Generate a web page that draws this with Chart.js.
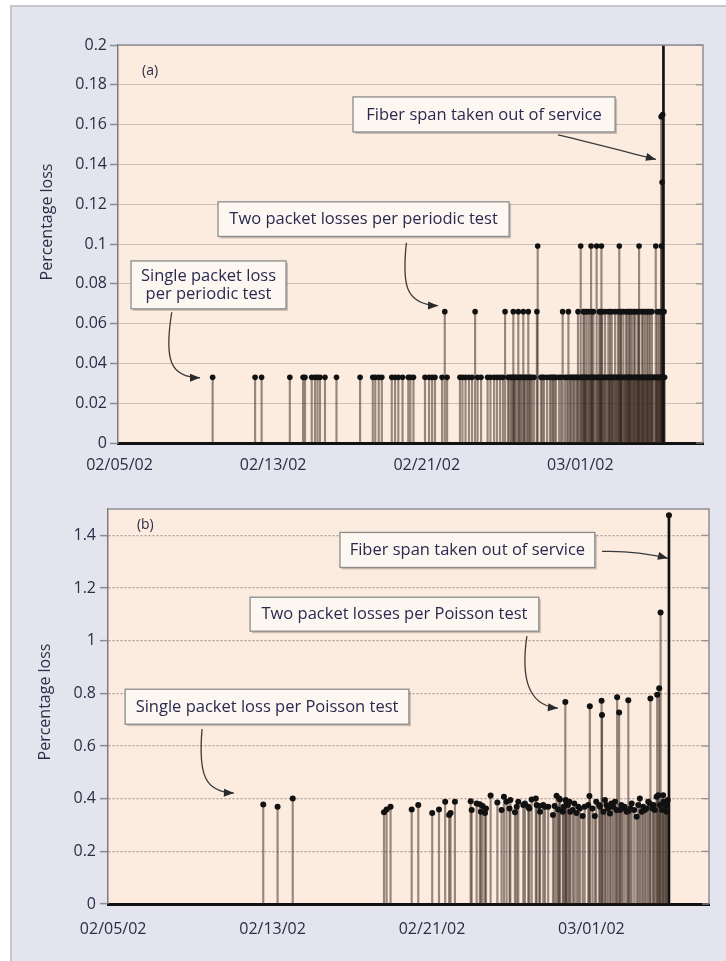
<!DOCTYPE html>
<html><head><meta charset="utf-8">
<script src="https://cdn.jsdelivr.net/npm/chart.js@4.4.1/dist/chart.umd.min.js"></script>
<style>
html,body{margin:0;padding:0;background:#fff;width:726px;height:961px;overflow:hidden;}
#frame{position:absolute;left:10px;top:5px;width:716px;height:956px;background:#e4e4ee;border-top:2px solid #c6c6ce;border-left:2px solid #c6c6ce;box-sizing:border-box;}
.wrap{position:absolute;left:0;width:726px;}
</style></head><body>
<div id="frame"></div>
<div class="wrap" style="top:0;height:480px"><canvas id="ca"></canvas></div>
<div class="wrap" style="top:480px;height:481px"><canvas id="cb"></canvas></div>
<script>
// ---------- data ----------
const xTickDays = [0, 8, 16, 24];          // days after 02/05/02
const xTickLabels = ['02/05/02', '02/13/02', '02/21/02', '03/01/02'];

const aYTicks  = [0, 0.02, 0.04, 0.06, 0.08, 0.1, 0.12, 0.14, 0.16, 0.18, 0.2];
const aYLabels = ['0', '0.02', '0.04', '0.06', '0.08', '0.1', '0.12', '0.14', '0.16', '0.18', '0.2'];
const bYTicks  = [0, 0.2, 0.4, 0.6, 0.8, 1, 1.2, 1.4];
const bYLabels = ['0', '0.2', '0.4', '0.6', '0.8', '1', '1.2', '1.4'];

// (a) periodic tests: day of test, percentage loss
const periodicDays = [
  4.85, 7.06, 7.40, 8.87, 9.56, 9.66, 10.01, 10.18, 10.31, 10.44, 10.70, 11.30, 12.53,
  13.19, 13.32, 13.50, 13.66, 14.18, 14.35, 14.52, 14.74, 15.04, 15.15, 15.31,
  15.91, 16.12, 16.28, 16.43, 16.80, 17.06, 17.73, 17.86, 18.02, 18.20, 18.36, 18.65, 18.83,
  19.17, 19.32, 19.51, 19.66, 19.82, 19.97, 20.23, 20.39, 20.55, 20.68, 20.81, 20.94, 21.07,
  21.22, 21.35, 21.48, 21.59, 21.95, 22.11, 22.27, 22.42, 22.58, 22.73, 22.89, 23.20, 23.52,
  23.67, 23.83, 24.06, 24.25, 24.40, 24.58, 24.71, 24.90, 25.03, 25.18, 25.34, 25.50, 25.65,
  25.76, 25.91, 26.07, 26.17, 26.33, 26.48, 26.59, 26.74, 26.90, 27.01, 27.16, 27.29, 27.42,
  27.53, 27.68, 27.79, 27.94, 28.05, 28.15, 28.23, 28.39,
  20.30, 20.47, 20.60, 20.88, 21.13, 21.40, 22.02, 22.50, 22.65, 23.00, 23.30, 23.45, 23.60,
  23.75, 23.95, 24.11, 24.20, 24.30, 24.50, 24.63, 24.80, 24.95, 25.08, 25.24, 25.42, 25.56,
  25.70, 25.86, 26.00, 26.12, 26.27, 26.41, 26.53, 26.66, 26.82, 26.96, 27.10, 27.22, 27.34,
  27.49, 27.61, 27.74, 27.87, 27.99, 28.12, 28.30,
  16.94, 18.52, 20.08, 20.51, 20.77, 21.03, 21.29, 21.74, 23.08, 23.38, 23.88, 24.16, 24.33,
  24.45, 24.68, 24.99, 25.14, 25.29, 25.46, 25.64, 25.81, 25.96, 26.12, 26.24, 26.38, 26.45,
  26.54, 26.68, 26.79, 26.85, 26.98, 27.20, 27.27, 27.37, 27.47, 27.63, 27.73, 28.01, 28.10, 28.36,
  24.22, 24.60, 25.05, 25.55, 26.10, 26.60, 27.05, 27.55, 28.20,
  21.78, 24.02, 24.56, 24.85, 25.10, 26.03, 27.06, 27.93, 28.22,
  28.26, 28.21, 28.29
];
const periodicLoss = [
  0.033, 0.033, 0.033, 0.033, 0.033, 0.033, 0.033, 0.033, 0.033, 0.033, 0.033, 0.033, 0.033,
  0.033, 0.033, 0.033, 0.033, 0.033, 0.033, 0.033, 0.033, 0.033, 0.033, 0.033,
  0.033, 0.033, 0.033, 0.033, 0.033, 0.033, 0.033, 0.033, 0.033, 0.033, 0.033, 0.033, 0.033,
  0.033, 0.033, 0.033, 0.033, 0.033, 0.033, 0.033, 0.033, 0.033, 0.033, 0.033, 0.033, 0.033,
  0.033, 0.033, 0.033, 0.033, 0.033, 0.033, 0.033, 0.033, 0.033, 0.033, 0.033, 0.033, 0.033,
  0.033, 0.033, 0.033, 0.033, 0.033, 0.033, 0.033, 0.033, 0.033, 0.033, 0.033, 0.033, 0.033,
  0.033, 0.033, 0.033, 0.033, 0.033, 0.033, 0.033, 0.033, 0.033, 0.033, 0.033, 0.033, 0.033,
  0.033, 0.033, 0.033, 0.033, 0.033, 0.033, 0.033, 0.033,
  0.033, 0.033, 0.033, 0.033, 0.033, 0.033, 0.033, 0.033, 0.033, 0.033, 0.033, 0.033, 0.033,
  0.033, 0.033, 0.033, 0.033, 0.033, 0.033, 0.033, 0.033, 0.033, 0.033, 0.033, 0.033, 0.033,
  0.033, 0.033, 0.033, 0.033, 0.033, 0.033, 0.033, 0.033, 0.033, 0.033, 0.033, 0.033, 0.033,
  0.033, 0.033, 0.033, 0.033, 0.033, 0.033, 0.033,
  0.066, 0.066, 0.066, 0.066, 0.066, 0.066, 0.066, 0.066, 0.066, 0.066, 0.066, 0.066, 0.066,
  0.066, 0.066, 0.066, 0.066, 0.066, 0.066, 0.066, 0.066, 0.066, 0.066, 0.066, 0.066, 0.066,
  0.066, 0.066, 0.066, 0.066, 0.066, 0.066, 0.066, 0.066, 0.066, 0.066, 0.066, 0.066, 0.066, 0.066,
  0.066, 0.066, 0.066, 0.066, 0.066, 0.066, 0.066, 0.066, 0.066,
  0.099, 0.099, 0.099, 0.099, 0.099, 0.099, 0.099, 0.099, 0.099,
  0.131, 0.164, 0.165
];
// (a) fiber span out of service (runs off the top of the scale)
const periodicOutageDay  = [28.33];
const periodicOutageLoss = [0.3];

// (b) Poisson tests: day of test, percentage loss
const poissonDays = [
  7.53, 8.25, 9.01, 13.59, 13.72, 13.92, 14.98, 15.31, 16.01, 16.35, 16.66, 16.86, 16.93,
  17.15, 17.94, 17.99, 18.24, 18.40, 18.45, 18.54, 18.66, 18.71, 18.94, 19.28, 19.49, 19.61,
  19.74, 19.89, 19.93, 20.16, 20.25, 20.33, 20.58, 20.66, 20.83, 20.88, 21.00, 21.21, 21.25,
  21.38, 21.42, 21.58, 21.67, 21.83, 22.07, 22.25, 22.38, 22.42, 22.56, 22.60, 22.69, 22.71,
  22.74, 22.90, 22.94, 23.06, 23.34, 23.42, 23.56, 23.84, 23.90, 23.92, 24.17, 24.39, 24.43,
  24.51, 24.53, 24.68, 24.84, 24.93, 25.09, 25.18, 25.26, 25.29, 25.39, 25.43, 25.56, 25.77,
  25.85, 25.87, 26.02, 26.27, 26.43, 26.60, 26.68, 26.85, 26.93, 26.96, 27.07, 27.18, 27.27,
  27.30, 27.35, 27.40, 27.44, 27.47, 27.60, 27.62, 27.74, 27.77,
  22.15, 22.33, 22.82, 23.14, 23.25, 23.66, 24.05, 24.24, 24.60, 24.75, 25.00, 25.50, 25.66,
  25.95, 26.15, 26.35, 26.52, 26.76, 27.12, 27.54, 27.68, 27.83
];
const poissonLoss = [
  0.378, 0.369, 0.401, 0.348, 0.359, 0.369, 0.359, 0.376, 0.346, 0.359, 0.388, 0.338, 0.346,
  0.388, 0.390, 0.357, 0.382, 0.379, 0.350, 0.372, 0.346, 0.363, 0.412, 0.385, 0.357, 0.407,
  0.388, 0.363, 0.395, 0.348, 0.369, 0.388, 0.376, 0.382, 0.369, 0.363, 0.397, 0.401, 0.376,
  0.372, 0.350, 0.376, 0.369, 0.369, 0.338, 0.411, 0.401, 0.397, 0.350, 0.369, 0.767, 0.395,
  0.388, 0.388, 0.350, 0.357, 0.369, 0.363, 0.334, 0.376, 0.410, 0.751, 0.334, 0.376, 0.369,
  0.772, 0.718, 0.395, 0.363, 0.344, 0.369, 0.388, 0.357, 0.785, 0.727, 0.357, 0.363, 0.350,
  0.774, 0.353, 0.382, 0.331, 0.401, 0.369, 0.357, 0.388, 0.382, 0.780, 0.363, 0.357, 0.407,
  0.795, 0.413, 0.819, 0.376, 1.107, 0.413, 0.388, 0.372, 0.350,
  0.372, 0.359, 0.376, 0.382, 0.346, 0.369, 0.363, 0.388, 0.350, 0.376, 0.382, 0.376, 0.369,
  0.363, 0.357, 0.376, 0.350, 0.363, 0.376, 0.357, 0.382, 0.395
];
const poissonOutageDay  = [27.89];
const poissonOutageLoss = [1.476];

// ---------- styling ----------
const FONT = "'Open Sans', 'DejaVu Sans', sans-serif";
const TEXT = '#2c2c46';
const PEACH = '#fcebdf';
const STEM = 'rgba(50,34,26,0.5)';

function pts(days, vals) { return days.map((d, i) => ({ x: d, y: vals[i] })); }

function panelPlugin(cfg) {
  return {
    id: 'panel_' + cfg.name,
    beforeDraw(chart) {
      const { ctx, chartArea: a } = chart;
      ctx.save();
      ctx.fillStyle = PEACH;
      ctx.fillRect(a.left, a.top, a.right - a.left, a.bottom - a.top);
      ctx.restore();
    },
    afterDraw(chart) {
      const { ctx, chartArea: a, scales: { x, y } } = chart;
      ctx.save();
      ctx.strokeStyle = '#8e8e96';
      ctx.lineWidth = 1.5;
      ctx.beginPath();
      ctx.moveTo(a.left, a.top); ctx.lineTo(a.right, a.top); ctx.lineTo(a.right, a.bottom);
      ctx.stroke();
      ctx.lineWidth = 1.2;
      cfg.yTicks.forEach(v => {
        const py = y.getPixelForValue(v);
        ctx.beginPath(); ctx.moveTo(a.right - 7, py); ctx.lineTo(a.right, py); ctx.stroke();
      });
      ctx.save();
      ctx.fillStyle = TEXT;
      ctx.font = '16px ' + FONT;
      ctx.textAlign = 'center'; ctx.textBaseline = 'middle';
      ctx.translate(cfg.titleX, cfg.titleY);
      ctx.rotate(-Math.PI / 2);
      ctx.fillText('Percentage loss', 0, 0);
      ctx.restore();
      ctx.fillStyle = TEXT;
      ctx.font = '14px ' + FONT;
      ctx.textAlign = 'left'; ctx.textBaseline = 'middle';
      ctx.fillText(cfg.label.text, x.getPixelForValue(cfg.label.at[0]), y.getPixelForValue(cfg.label.at[1]));
      cfg.notes.forEach(n => drawNote(ctx, x, y, n));
      ctx.restore();
    }
  };
}

function drawNote(ctx, xs, ys, n) {
  const x1 = xs.getPixelForValue(n.box[0]), x2 = xs.getPixelForValue(n.box[1]);
  const y1 = ys.getPixelForValue(n.box[2]), y2 = ys.getPixelForValue(n.box[3]);
  ctx.fillStyle = 'rgba(110,100,100,0.35)';
  ctx.fillRect(x1 + 2, y1 + 2, x2 - x1, y2 - y1);
  ctx.fillStyle = '#fdf7f1';
  ctx.fillRect(x1, y1, x2 - x1, y2 - y1);
  ctx.strokeStyle = '#8c8c8c';
  ctx.lineWidth = 1.3;
  ctx.strokeRect(x1, y1, x2 - x1, y2 - y1);
  ctx.fillStyle = '#2a2a50';
  ctx.font = '16.5px ' + FONT;
  ctx.textAlign = 'center'; ctx.textBaseline = 'middle';
  const cx = (x1 + x2) / 2, cy = (y1 + y2) / 2 + 0.5, lh = 18;
  n.lines.forEach((t, i) => ctx.fillText(t, cx, cy + (i - (n.lines.length - 1) / 2) * lh));
  const p = n.arrow.map(q => [xs.getPixelForValue(q[0]), ys.getPixelForValue(q[1])]);
  ctx.strokeStyle = '#3a3a3a';
  ctx.lineWidth = 1.3;
  ctx.beginPath();
  ctx.moveTo(p[0][0], p[0][1]);
  ctx.bezierCurveTo(p[1][0], p[1][1], p[2][0], p[2][1], p[3][0], p[3][1]);
  ctx.stroke();
  const ang = Math.atan2(p[3][1] - p[2][1], p[3][0] - p[2][0]);
  const L = 10, W = 4;
  ctx.fillStyle = '#2a2a2a';
  ctx.beginPath();
  ctx.moveTo(p[3][0], p[3][1]);
  ctx.lineTo(p[3][0] - L * Math.cos(ang) + W * Math.sin(ang), p[3][1] - L * Math.sin(ang) - W * Math.cos(ang));
  ctx.lineTo(p[3][0] - L * Math.cos(ang) - W * Math.sin(ang), p[3][1] - L * Math.sin(ang) + W * Math.cos(ang));
  ctx.closePath();
  ctx.fill();
}

function makeChart(id, o) {
  return new Chart(document.getElementById(id), {
    type: 'bar',
    data: {
      datasets: [
        { type: 'bar', data: pts(o.days, o.loss), backgroundColor: STEM, barThickness: 1.5, grouped: false, order: 3 },
        { type: 'bar', data: pts(o.outDay, o.outLoss), backgroundColor: '#111', barThickness: 2, grouped: false, order: 2 },
        { type: 'scatter', data: pts(o.days, o.loss), pointRadius: o.dot, pointBackgroundColor: '#111', pointBorderWidth: 0, order: 1 },
        { type: 'scatter', data: pts(o.outDay, o.outLoss), pointRadius: o.dot, pointBackgroundColor: '#111', pointBorderWidth: 0, order: 1 }
      ]
    },
    options: {
      responsive: true, maintainAspectRatio: false, animation: false,
      layout: { padding: { top: o.padTop, right: o.padRight, left: 0, bottom: 0 } },
      plugins: { legend: { display: false }, tooltip: { enabled: false } },
      scales: {
        x: {
          type: 'linear', min: o.xMin, max: o.xMax, offset: false,
          afterBuildTicks: s => { s.ticks = xTickDays.map(v => ({ value: v })); },
          afterFit: s => { s.height = o.xHeight; },
          ticks: { callback: (v, i) => xTickLabels[i], autoSkip: false, maxRotation: 0, padding: o.xPad,
                   font: { family: FONT, size: 16 }, color: TEXT },
          grid: { display: false, drawTicks: false },
          border: { display: true, color: '#111', width: 3 }
        },
        y: {
          min: 0, max: o.yMax,
          afterBuildTicks: s => { s.ticks = o.yTicks.map(v => ({ value: v })); },
          afterFit: s => { s.width = o.yWidth; },
          ticks: { callback: (v, i) => o.yLabels[i], padding: o.yPad, font: { family: FONT, size: 16 }, color: TEXT },
          grid: { color: o.gridColor, lineWidth: o.gridWidth, tickLength: 8, tickColor: '#8c8c94', tickWidth: 1.5 },
          border: { color: '#7c7c84', width: 1.5, dash: o.gridDash }
        }
      }
    },
    plugins: [panelPlugin(o.panel)]
  });
}

makeChart('ca', {
  days: periodicDays, loss: periodicLoss, outDay: periodicOutageDay, outLoss: periodicOutageLoss,
  dot: 2.8, padTop: 45, padRight: 23, xMin: -0.08, xMax: 30.39, xHeight: 37, yWidth: 118, yPad: 3, xPad: 13,
  yMax: 0.2, yTicks: aYTicks, yLabels: aYLabels,
  gridColor: 'rgba(150,140,135,0.45)', gridWidth: 1, gridDash: [],
  panel: {
    name: 'a', yTicks: aYTicks, titleX: 47, titleY: 222,
    label: { text: '(a)', at: [1.17, 0.187] },
    notes: [
      { lines: ['Fiber span taken out of service'], box: [12.16, 25.81, 0.1739, 0.1563],
        arrow: [[22.84, 0.1548], [24.5, 0.1510], [26.3, 0.1465], [27.94, 0.1425]] },
      { lines: ['Two packet losses per periodic test'], box: [5.13, 20.29, 0.1212, 0.1038],
        arrow: [[14.94, 0.1006], [14.71, 0.0795], [14.87, 0.0695], [16.59, 0.0690]] },
      { lines: ['Single packet loss', 'per periodic test'], box: [0.60, 8.67, 0.0915, 0.0674],
        arrow: [[2.72, 0.0657], [2.32, 0.0418], [2.63, 0.0328], [4.19, 0.0328]] }
    ]
  }
});

makeChart('cb', {
  days: poissonDays, loss: poissonLoss, outDay: poissonOutageDay, outLoss: poissonOutageLoss,
  dot: 3, padTop: 29, padRight: 17, xMin: -0.26, xMax: 29.9, xHeight: 57, yWidth: 108, yPad: 4, xPad: 16,
  yMax: 1.5, yTicks: bYTicks, yLabels: bYLabels,
  gridColor: 'rgba(140,128,125,0.7)', gridWidth: 1.3, gridDash: [2, 2],
  panel: {
    name: 'b', yTicks: bYTicks, titleX: 45, titleY: 222,
    label: { text: '(b)', at: [1.19, 1.438] },
    notes: [
      { lines: ['Fiber span taken out of service'], box: [11.38, 24.17, 1.411, 1.278],
        arrow: [[24.53, 1.339], [25.8, 1.342], [26.9, 1.330], [27.84, 1.3126]] },
      { lines: ['Two packet losses per Poisson test'], box: [6.87, 21.36, 1.165, 1.036],
        arrow: [[20.76, 1.017], [20.50, 0.880], [20.66, 0.755], [22.32, 0.7436]] },
      { lines: ['Single packet loss per Poisson test'], box: [0.60, 14.84, 0.8156, 0.6829],
        arrow: [[4.46, 0.664], [4.26, 0.4894], [4.61, 0.425], [6.06, 0.4211]] }
    ]
  }
});
</script>
</body></html>
